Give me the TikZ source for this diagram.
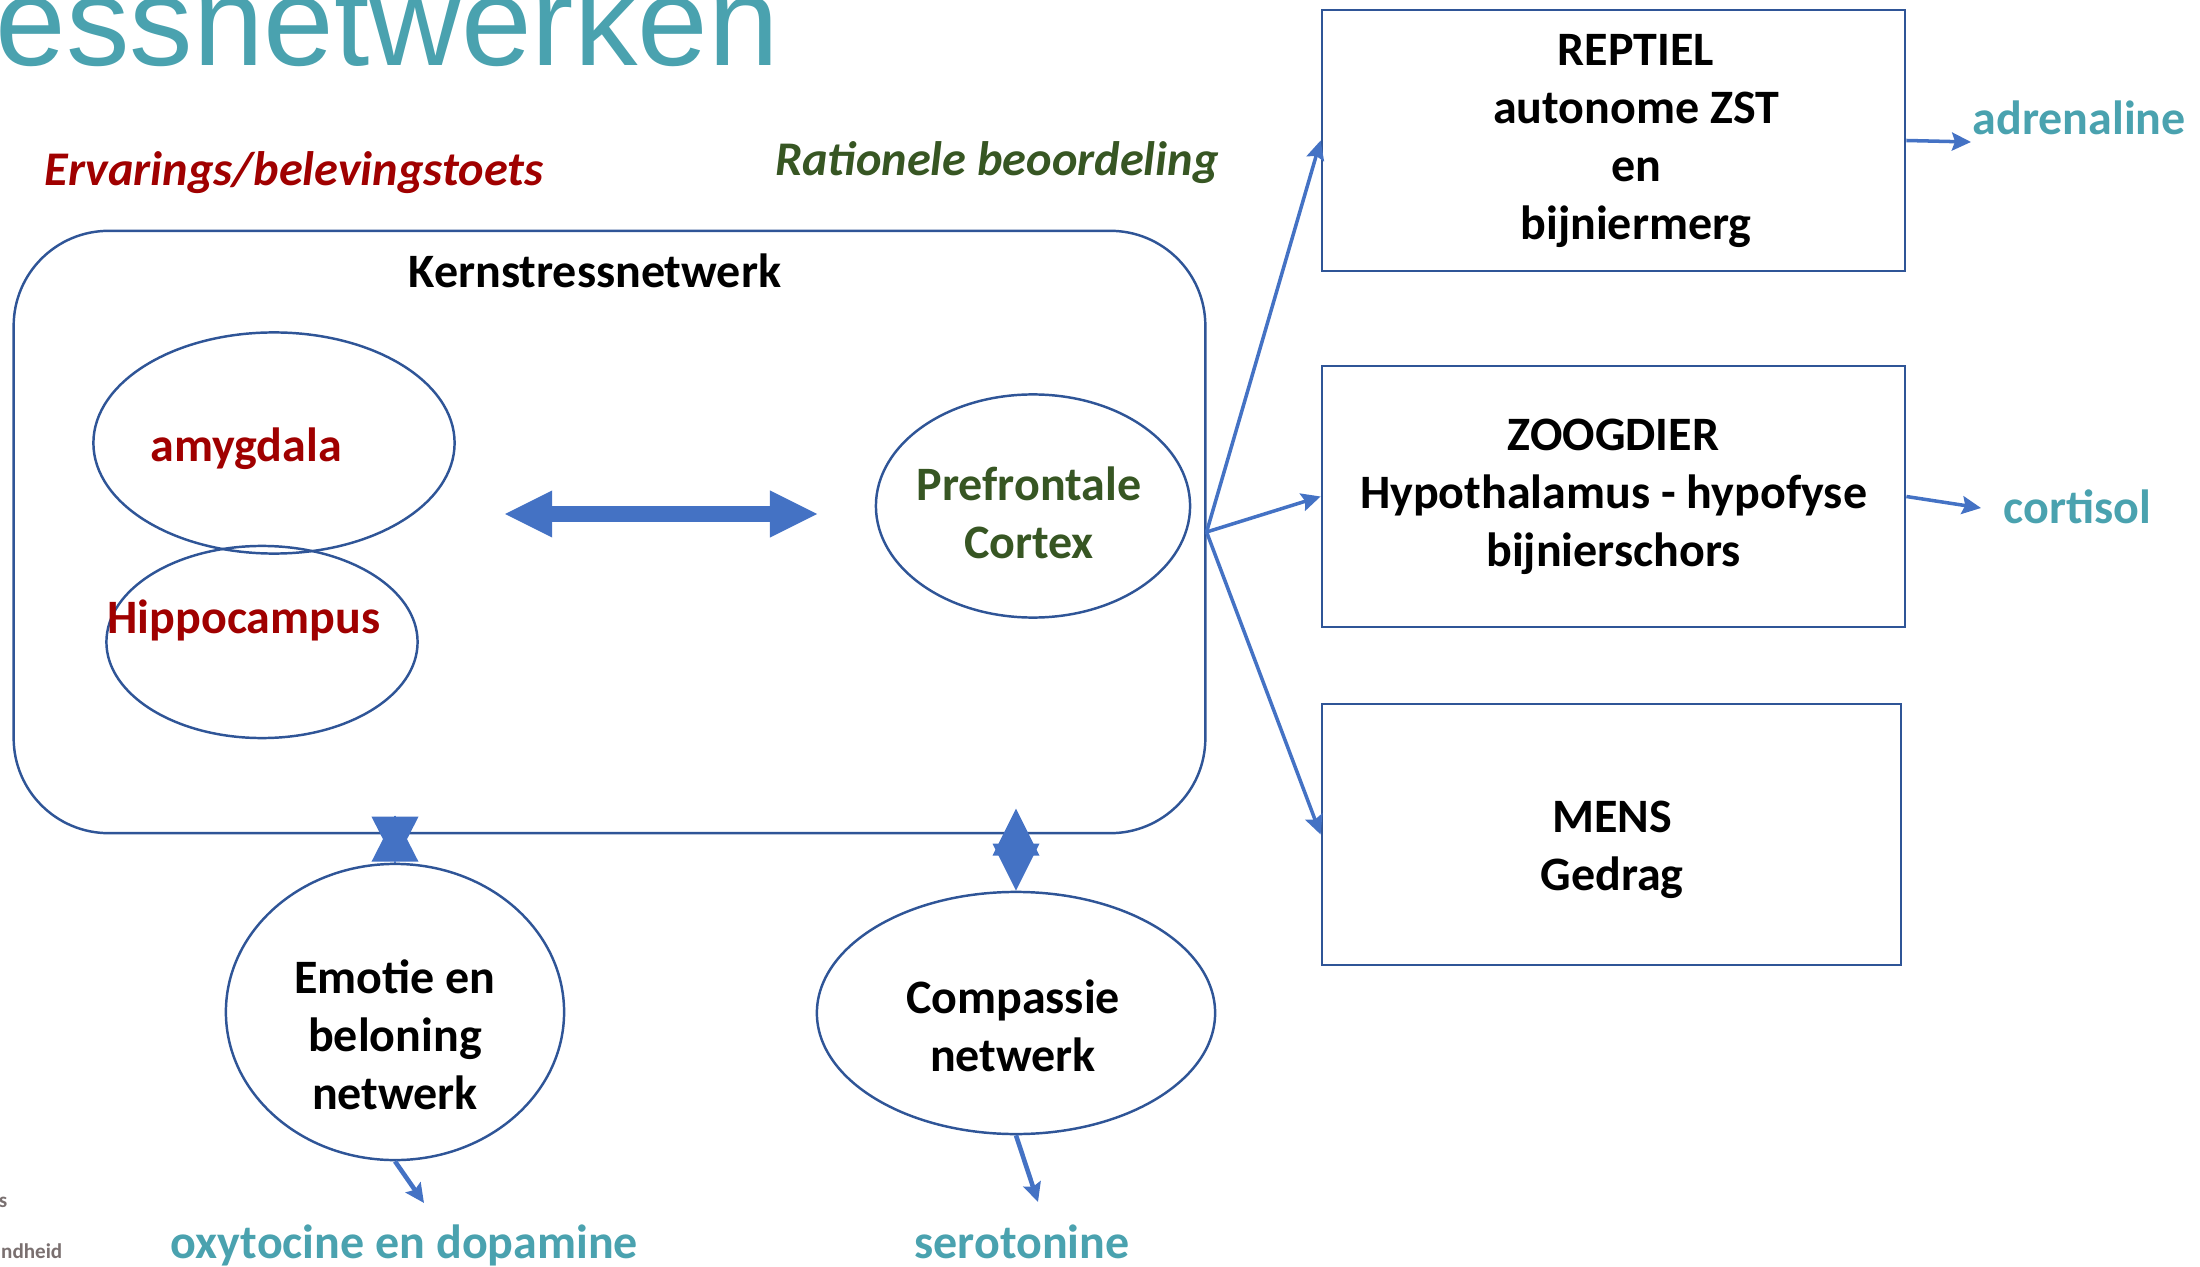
\documentclass[tikz,border=0pt]{standalone}
\usepackage{fontspec}
\setmainfont{Carlito}
\newfontfamily\titlefont{Liberation Sans}
\usepackage{xcolor}
\usepackage{tikz}
\usetikzlibrary{arrows.meta,calc}
\usetikzlibrary{positioning,shapes}

\definecolor{lineblue}{HTML}{2F5597}
\definecolor{arrowblue}{HTML}{4472C4}
\definecolor{hormone}{HTML}{4AA2AF}
\definecolor{ervaring}{HTML}{A00000}
\definecolor{ratio}{HTML}{375623}
\definecolor{voetgrijs}{HTML}{7A7070}

\begin{document}
\begin{tikzpicture}[x=0.01cm, y=-0.01cm,
    txt/.style={font=\bfseries\fontsize{13.65}{16.5}\selectfont, align=center, inner sep=0pt},
    ital/.style={txt, font=\bfseries\itshape\fontsize{13.75}{16.5}\selectfont},
    blob/.style={txt, draw=lineblue, line width=0.7pt, ellipse},
    rbox/.style={txt, draw=lineblue, line width=0.7pt, rectangle, minimum height=2.61cm},
    conn/.style={arrowblue, line width=1pt, -{Stealth[length=0.19cm, width=0.18cm, inset=0.03cm]}},
    fat/.style={arrowblue, line width=0.16cm,
        {Triangle[length=0.47cm, width=0.47cm, line width=0pt]}-{Triangle[length=0.47cm, width=0.47cm, line width=0pt]}},
    fathead/.style={arrowblue, line width=0.4pt, -{Triangle[length=0.46cm, width=0.47cm, line width=0pt]}}]
    \useasboundingbox (0,0) rectangle (2200,1267);

    % Titles
    \node[anchor=base west, inner sep=0pt, font=\titlefont\fontsize{36.1}{40}\selectfont, text=hormone] (titel) at (-5,66) {essnetwerken};
    \node[ital, anchor=base, text=ervaring] (ervaring) at (294,186) {Ervarings/belevingstoets};
    \node[ital, anchor=base, text=ratio] (rationeel) at (997,176) {Rationele beoordeling};

    % Core network
    \node[draw=lineblue, line width=0.7pt, rounded corners=0.95cm, minimum width=11.91cm, minimum height=6.02cm, inner sep=0pt] (kern) at (609.5,532) {};
    \node[txt, anchor=base] (kernlabel) at (595,288) {Kernstressnetwerk};
    \node[blob, minimum width=3.61cm, minimum height=2.21cm] (amygdala) at (274,443) {};
    \node[txt, anchor=base, text=ervaring] (amygdalatxt) at (246,462) {amygdala};
    \node[blob, minimum width=3.11cm, minimum height=1.92cm] (hippo) at (262,642) {};
    \node[txt, anchor=base, text=ervaring] (hippotxt) at (244,633) {Hippocampus};
    \node[blob, minimum width=3.14cm, minimum height=2.23cm] (prefrontaal) at (1033,506) {};
    \node[txt, text=ratio] (prefrontaaltxt) at (1029,513) {Prefrontale\\Cortex};

    % Boxes on the right
    \node[rbox, minimum width=5.83cm] (reptiel) at (1613.5,140.5) {};
    \node[txt] (reptieltxt) at (1636,141) {REPTIEL\\autonome ZST\\en\\bijniermerg};
    \node[rbox, minimum width=5.83cm] (zoogdier) at (1613.5,496.5) {ZOOGDIER\\Hypothalamus - hypofyse\\bijnierschors};
    \node[rbox, minimum width=5.79cm] (mens) at (1611.5,834.5) {};
    \node[txt] (menstxt) at (1612,850) {MENS\\Gedrag};

    % Networks below
    \node[blob, minimum width=3.38cm, minimum height=2.96cm] (emotie) at (395,1012) {};
    \node[txt] (emotietxt) at (395,1035) {Emotie en\\beloning\\netwerk};
    \node[blob, minimum width=3.98cm, minimum height=2.42cm] (compassie) at (1016,1013) {};
    \node[txt] (compassietxt) at (1013,1026) {Compassie\\netwerk};

    % Hormones
    \node[txt, anchor=base west, text=hormone] (adrenaline) at (1972,135) {adrenaline};
    \node[txt, anchor=base west, text=hormone] (cortisol) at (2003,523) {cortisol};
    \node[txt, anchor=base, text=hormone] (oxytocine) at (404.5,1258) {oxytocine en dopamine};
    \node[txt, anchor=base, text=hormone] (serotonine) at (1022,1258) {serotonine};

    % Footer, cut off
    \node[anchor=base east, inner sep=0pt, font=\bfseries\fontsize{6}{7}\selectfont, text=voetgrijs] (voet1) at (8,1207) {s};
    \node[anchor=base east, inner sep=0pt, font=\bfseries\fontsize{6}{7}\selectfont, text=voetgrijs] (voet2) at (63,1258) {ndheid};

    % Free arrow ends
    \coordinate (linkspunt) at (505,514);
    \coordinate (rechtspunt) at (817,514);
    \coordinate (emotietop) at ($(emotie.north)+(0,-47)$);
    \coordinate (compassietop) at ($(compassie.north)+(0,-82)$);
    \coordinate (adrtip) at (1971,142);
    \coordinate (cortip) at (1981,508);
    \coordinate (oxytip) at (424,1203);
    \coordinate (serotip) at (1038,1202);

    % Arrows
    \draw[fat] (linkspunt) -- (rechtspunt);
    \draw[fathead] (emotietop) -- (emotie.north);
    \draw[fathead] (emotie.north) -- (emotietop);
    \draw[fat] (compassie.north) -- (compassietop);
    \draw[conn] (kern.east) -- (reptiel.west);
    \draw[conn] (kern.east) -- (zoogdier.west);
    \draw[conn] (kern.east) -- (mens.west);
    \draw[conn] (reptiel.east) -- (adrtip);
    \draw[conn] (zoogdier.east) -- (cortip);
    \draw[conn, line width=1.3pt] (emotie.south) -- (oxytip);
    \draw[conn, line width=1.3pt] (compassie.south) -- (serotip);
\end{tikzpicture}
\end{document}
